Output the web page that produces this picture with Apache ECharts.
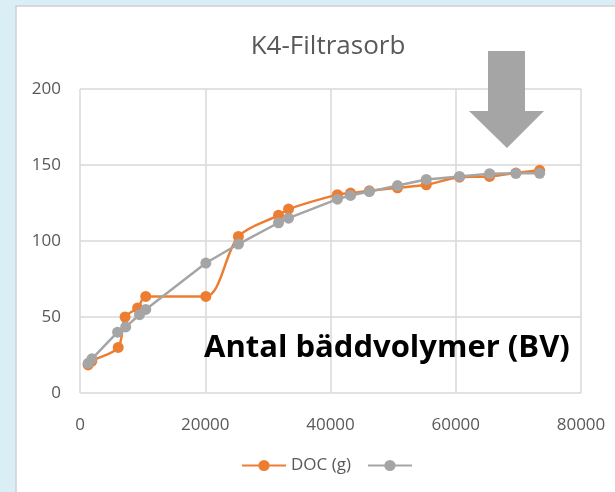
<!DOCTYPE html>
<html>
<head>
<meta charset="utf-8">
<script src="https://cdn.jsdelivr.net/npm/echarts@6/dist/echarts.min.js"></script>
<style>
  html, body { margin: 0; padding: 0; background: #daeef6; }
  #chart { width: 615px; height: 492px; }
</style>
</head>
<body>
<div id="chart"></div>
<script>
// BV (x) and DOC values
var docX = [1300, 1900, 6100, 7200, 9200, 10500, 20100, 25300, 31700, 33300, 41100, 43200, 46200, 50700, 55300, 60600, 65400, 69600, 73400];
var docY = [18.5, 21, 30, 50, 56, 63.5, 63.5, 103, 117, 121, 130.5, 131.5, 133, 135, 137, 142, 142.5, 144.7, 146.5];
var greyX = [1300, 1900, 6000, 7300, 9500, 10500, 20100, 25300, 31700, 33300, 41100, 43200, 46200, 50700, 55300, 60600, 65400, 69600, 73400];
var greyY = [19.5, 22.5, 40, 43.5, 51.5, 55, 85.5, 98, 112, 115, 127.5, 130, 132.5, 136.5, 140.5, 142.5, 144.3, 144.5, 144.5];
var xTicks = { min: 0, max: 80000, interval: 20000 };
var yTicks = { min: 0, max: 200, interval: 50 };

var font = 'Open Sans';
var pair = function (xs, ys) { return xs.map(function (x, i) { return [x, ys[i]]; }); };

var chart = echarts.init(document.getElementById('chart'));
chart.setOption({
  backgroundColor: '#daeef6',
  animation: false,
  title: {
    text: 'K4-Filtrasorb',
    left: 323, textAlign: 'center', top: 29,
    textStyle: { fontFamily: font, fontSize: 26, fontWeight: 'normal', color: '#595959' }
  },
  legend: {
    left: 236, top: 452,
    itemWidth: 44, itemHeight: 14, itemGap: 16,
    textStyle: { fontFamily: font, fontSize: 17, color: '#595959' },
    data: ['DOC (g)', ' ']
  },
  grid: { left: 80, right: 34, top: 89, bottom: 99 },
  xAxis: {
    type: 'value', min: xTicks.min, max: xTicks.max, interval: xTicks.interval,
    axisLine: { show: false }, axisTick: { show: false },
    axisLabel: { fontFamily: font, fontSize: 17, color: '#595959', margin: 24,
      formatter: function (v) { return String(v); } },
    splitLine: { lineStyle: { color: '#d9d9d9', width: 1.5 } }
  },
  yAxis: {
    type: 'value', min: yTicks.min, max: yTicks.max, interval: yTicks.interval,
    axisLine: { show: false }, axisTick: { show: false },
    axisLabel: { fontFamily: font, fontSize: 17, color: '#595959', margin: 19 },
    splitLine: { lineStyle: { color: '#d9d9d9', width: 1.5 } }
  },
  graphic: [
    { type: 'rect', z: -10, shape: { x: 16, y: 6, width: 620, height: 500 },
      style: { fill: '#ffffff', stroke: '#d0d0d0', lineWidth: 1.5 } },
    { type: 'polygon', z: 10,
      shape: { points: [[488, 51], [525, 51], [525, 111], [544, 111], [507, 148], [469, 111], [488, 111]] },
      style: { fill: '#a5a5a5' } },
    { type: 'text', z: 10, left: 204, top: 333,
      style: { text: 'Antal bäddvolymer (BV)', fontFamily: font, fontSize: 31, fontWeight: 'bold', fill: '#000000' } }
  ],
  series: [
    {
      name: 'DOC (g)', type: 'line', smooth: 0.3,
      data: pair(docX, docY),
      symbol: 'circle', symbolSize: 11,
      itemStyle: { color: '#ed7d31' },
      lineStyle: { color: '#ed7d31', width: 2.5 }
    },
    {
      name: ' ', type: 'line',
      data: pair(greyX, greyY),
      symbol: 'circle', symbolSize: 11,
      itemStyle: { color: '#a5a5a5' },
      lineStyle: { color: '#a5a5a5', width: 2.5 }
    }
  ]
});
</script>
</body>
</html>
